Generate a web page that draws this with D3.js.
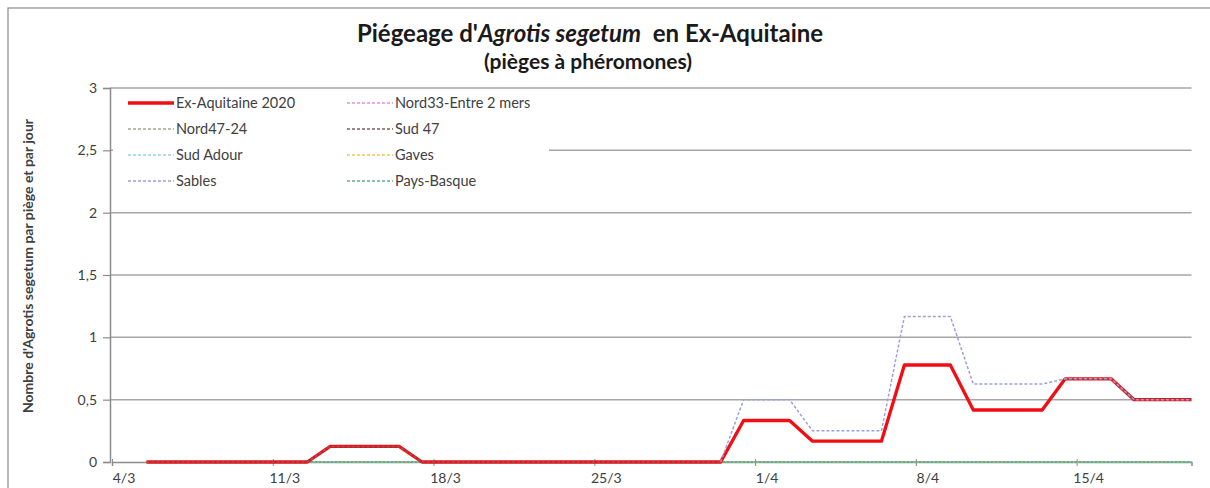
<!DOCTYPE html>
<html>
<head>
<meta charset="utf-8">
<script src="https://cdn.jsdelivr.net/npm/d3@7"></script>
<style>
  html, body { margin: 0; padding: 0; background: #fff; }
  svg { display: block; font-family: Lato, "Open Sans", sans-serif; }
</style>
</head>
<body>
<svg id="chart" width="1210" height="488"></svg>
<script>
// ---- Data ----
const startDate = "2020-03-05";
const axisStart = "2020-03-04";
const axisEnd = "2020-04-20";
const tickLabels = ["4/3", "11/3", "18/3", "25/3", "1/4", "8/4", "15/4"];
const yTicks = [0, 0.5, 1, 1.5, 2, 2.5, 3];

// daily values from 5/3 to 20/4 (47 days)
const exAquitaine = [
  0,0,0,0,0,0,0,0,
  0.125,0.125,0.125,0.125,
  0,0,0,0,0,0,0,0,0,0,0,0,0,0,
  0.333,0.333,0.333,
  0.167,0.167,0.167,0.167,
  0.778,0.778,0.778,
  0.417,0.417,0.417,0.417,
  0.667,0.667,0.667,
  0.5,0.5,0.5,0.5
];
const sables = [
  null,null,null,null,null,null,null,null,
  null,null,null,null,
  null,null,null,null,null,null,null,null,null,null,null,null,null,0,
  0.5,0.5,0.5,
  0.25,0.25,0.25,0.25,
  1.167,1.167,1.167,
  0.625,0.625,0.625,0.625,
  0.667,0.667,0.667,
  0.5,0.5,0.5,0.5
];
const sud47 = [
  0,0,0,0,0,0,0,0,
  0.125,0.125,0.125,0.125,
  0,0,0,0,0,0,0,0,0,0,0,0,0,0,
  null,null,null,
  null,null,null,null,
  null,null,null,
  null,null,null,null,
  0.667,0.667,0.667,
  0.5,0.5,0.5,0.5
];
const zeros = [
  0,0,0,0,0,0,0,0,0,0,0,0,0,0,0,0,0,0,0,0,0,0,0,0,
  0,0,0,0,0,0,0,0,0,0,0,0,0,0,0,0,0,0,0,0,0,0,0
];
const nord33 = zeros, nord4724 = zeros, sudAdour = zeros, gaves = zeros, paysBasque = zeros;

const seriesNames = ["Ex-Aquitaine 2020", "Nord33-Entre 2 mers", "Nord47-24", "Sud 47",
                     "Sud Adour", "Gaves", "Sables", "Pays-Basque"];
const seriesValues = [exAquitaine, nord33, nord4724, sud47, sudAdour, gaves, sables, paysBasque];
const seriesColors = ["#f20d12", "#e98be8", "#aaa48c", "#7d5f66", "#9ccbe9", "#f2c654", "#9aa0d8", "#5fae8c"];
const seriesWidths = [3.3, 1.5, 1.5, 1.5, 1.5, 1.5, 1.5, 1.8];
const seriesDash = [null, "3,2", "3,2", "3,2", "3,2", "3,2", "3,2", "3,1"];
// drawing order (index into series)
const drawOrder = [1, 2, 4, 5, 7, 0, 3, 6];

// ---- Layout ----
const svg = d3.select("#chart");
const plot = { left: 112, right: 1191.5, top: 88, bottom: 462 };
const parse = d3.utcParse("%Y-%m-%d");
const day0 = parse(startDate);
const dates = exAquitaine.map((_, i) => d3.utcDay.offset(day0, i));

const x = d3.scaleUtc()
  .domain([parse(axisStart), parse(axisEnd)])
  .range([plot.left, plot.right]);
const y = d3.scaleLinear().domain([0, 3]).range([plot.bottom, plot.top]);

// chart frame
svg.append("rect").attr("x", 8).attr("y", 8).attr("width", 1240).attr("height", 520)
  .attr("fill", "none").attr("stroke", "#8a8a8a").attr("stroke-width", 1.2);

// gridlines
svg.append("g").selectAll("line").data(yTicks.filter(d => d > 0)).join("line")
  .attr("x1", plot.left - 2).attr("x2", plot.right)
  .attr("y1", d => y(d)).attr("y2", d => y(d))
  .attr("stroke", "#a6a6a6").attr("stroke-width", 1.5);

// y axis
const yAxis = d3.axisLeft(y).tickValues(yTicks).tickSize(7).tickPadding(6)
  .tickFormat(d => d3.format("")(d).replace(".", ","));
const gy = svg.append("g").attr("transform", `translate(${plot.left - 2},0)`).call(yAxis);
gy.select(".domain").attr("stroke", "#8c8c8c").attr("stroke-width", 1.5);
gy.selectAll(".tick line").attr("stroke", "#8c8c8c").attr("stroke-width", 1.2);
gy.selectAll(".tick text").attr("font-family", "Lato, sans-serif").attr("font-size", 14)
  .attr("fill", "#404040");

// x axis
const tickDates = tickLabels.map(t => {
  const [d, m] = t.split("/").map(Number);
  return new Date(Date.UTC(2020, m - 1, d));
});
const xAxis = d3.axisBottom(x).tickValues(tickDates).tickSize(4).tickFormat(() => "");
const gx = svg.append("g").attr("transform", `translate(0,${plot.bottom})`).call(xAxis);
gx.select(".domain").attr("stroke", "#8c8c8c").attr("stroke-width", 1.5);
gx.selectAll(".tick line").attr("stroke", "#8c8c8c").attr("y1", -3);
gx.selectAll(".tick").append("text")
  .attr("x", d => x(d3.utcHour.offset(d, 12)) - x(d))
  .attr("y", 21).attr("text-anchor", "middle")
  .attr("font-family", "Lato, sans-serif").attr("font-size", 14).attr("fill", "#404040")
  .text((d, i) => tickLabels[i]);

// clip
svg.append("clipPath").attr("id", "clip").append("rect")
  .attr("x", plot.left).attr("y", plot.top - 10)
  .attr("width", plot.right - plot.left).attr("height", plot.bottom - plot.top + 20);

const line = d3.line()
  .defined(d => d.v !== null)
  .x(d => x(d3.utcHour.offset(d.date, 12)))
  .y(d => y(d.v));

const gLines = svg.append("g").attr("clip-path", "url(#clip)");
drawOrder.forEach(i => {
  const data = seriesValues[i].map((v, k) => ({ date: dates[k], v }));
  gLines.append("path").datum(data)
    .attr("d", line)
    .attr("fill", "none")
    .attr("stroke", seriesColors[i])
    .attr("stroke-width", seriesWidths[i])
    .attr("stroke-dasharray", seriesDash[i])
    .attr("stroke-linejoin", "round");
});

// legend
const leg = svg.append("g");
leg.append("rect").attr("x", plot.left + 1).attr("y", plot.top + 2).attr("width", 436).attr("height", 110)
  .attr("fill", "#fff");
seriesNames.forEach((name, i) => {
  const col = i % 2, row = Math.floor(i / 2);
  const lx = col === 0 ? 128 : 347;
  const ly = 103 + row * 26;
  leg.append("line").attr("x1", lx).attr("x2", lx + 46).attr("y1", ly).attr("y2", ly)
    .attr("stroke", seriesColors[i]).attr("stroke-width", i === 0 ? 3.5 : 1.5)
    .attr("stroke-dasharray", i === 0 ? null : "3,2");
  leg.append("text").attr("x", lx + 48).attr("y", ly + 5)
    .attr("font-family", "Lato, sans-serif").attr("font-size", 14.5).attr("fill", "#404040")
    .text(name);
});

// titles
const title = svg.append("text").attr("x", 590).attr("y", 42).attr("text-anchor", "middle")
  .attr("font-family", "Lato, sans-serif").attr("font-size", 24).attr("font-weight", "bold")
  .attr("fill", "#1a1a1a");
title.append("tspan").text("Piégeage d'");
title.append("tspan").attr("font-style", "italic").text("Agrotis segetum");
title.append("tspan").text("\u00a0 en Ex-Aquitaine");

svg.append("text").attr("x", 588).attr("y", 69).attr("text-anchor", "middle")
  .attr("font-family", "Lato, sans-serif").attr("font-size", 21).attr("font-weight", "bold")
  .attr("fill", "#1a1a1a").text("(pièges à phéromones)");

svg.append("text")
  .attr("transform", "translate(33,266) rotate(-90)")
  .attr("text-anchor", "middle")
  .attr("font-family", "Lato, sans-serif").attr("font-size", 14).attr("font-weight", "bold")
  .attr("fill", "#404040")
  .text("Nombre d'Agrotis segetum par piège et par jour");
</script>
</body>
</html>
